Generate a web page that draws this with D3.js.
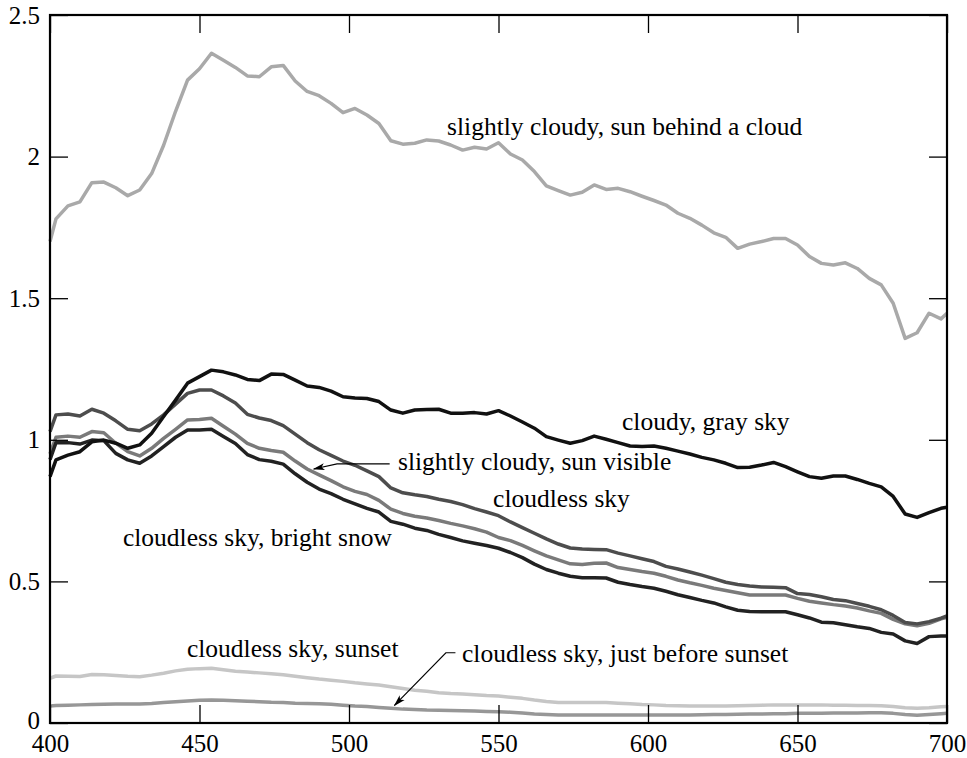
<!DOCTYPE html>
<html>
<head>
<meta charset="utf-8">
<script src="https://cdn.jsdelivr.net/npm/d3@7"></script>
<style>
  body { margin: 0; background: #fff; }
  svg { display: block; font-family: "Liberation Serif", "Times New Roman", serif; }
</style>
</head>
<body>
<div id="chart"></div>
<script>
const width = 967;
const height = 758;

// wavelength grid (nm)
const wavelengths = [400, 402, 406, 410, 414, 418, 422, 426, 430, 434, 438, 442, 446, 450, 454, 458, 462, 466, 470, 474,
  478, 482, 486, 490, 494, 498, 502, 506, 510, 514, 518, 522, 526, 530, 534, 538, 542, 546, 550, 554,
  558, 562, 566, 570, 574, 578, 582, 586, 590, 594, 598, 602, 606, 610, 614, 618, 622, 626, 630, 634,
  638, 642, 646, 650, 654, 658, 662, 666, 670, 674, 678, 682, 686, 690, 694, 698, 700];

const sunBehindCloud = [1.70, 1.78, 1.826, 1.84, 1.908, 1.91, 1.89, 1.862, 1.882, 1.94, 2.04, 2.16, 2.27, 2.31, 2.365, 2.34, 2.315, 2.285, 2.282, 2.317,
  2.322, 2.267, 2.23, 2.215, 2.188, 2.155, 2.17, 2.147, 2.117, 2.056, 2.044, 2.047, 2.059, 2.055, 2.041, 2.023, 2.033, 2.027, 2.049, 2.009,
  1.988, 1.947, 1.897, 1.88, 1.864, 1.874, 1.90, 1.884, 1.888, 1.876, 1.86, 1.845, 1.829, 1.80, 1.782, 1.758, 1.731, 1.715, 1.676, 1.691,
  1.70, 1.711, 1.711, 1.688, 1.647, 1.623, 1.617, 1.625, 1.605, 1.57, 1.547, 1.482, 1.358, 1.378, 1.447, 1.427, 1.447];

const graySky = [0.87, 0.929, 0.946, 0.958, 0.993, 0.999, 0.988, 0.97, 0.982, 1.023, 1.082, 1.14, 1.20, 1.223, 1.246, 1.24, 1.229, 1.213, 1.209, 1.232,
  1.231, 1.211, 1.19, 1.185, 1.172, 1.152, 1.148, 1.146, 1.135, 1.105, 1.094, 1.105, 1.107, 1.108, 1.094, 1.094, 1.096, 1.091, 1.103, 1.084,
  1.063, 1.041, 1.011, 0.999, 0.988, 0.997, 1.013, 1.002, 0.99, 0.978, 0.976, 0.978, 0.97, 0.96, 0.95, 0.938, 0.929, 0.917, 0.902, 0.903,
  0.911, 0.92, 0.905, 0.887, 0.87, 0.864, 0.872, 0.872, 0.86, 0.846, 0.834, 0.80, 0.738, 0.726, 0.743, 0.758, 0.762];

const cloudless = [1.029, 1.088, 1.091, 1.084, 1.108, 1.094, 1.067, 1.037, 1.032, 1.056, 1.088, 1.126, 1.164, 1.176, 1.176, 1.155, 1.13, 1.09, 1.077, 1.068,
  1.05, 1.02, 0.99, 0.965, 0.945, 0.925, 0.91, 0.89, 0.87, 0.83, 0.813, 0.806, 0.80, 0.79, 0.782, 0.771, 0.757, 0.745, 0.732, 0.71,
  0.69, 0.67, 0.65, 0.632, 0.618, 0.614, 0.613, 0.612, 0.60, 0.59, 0.58, 0.57, 0.553, 0.544, 0.533, 0.522, 0.51, 0.497, 0.489, 0.484,
  0.48, 0.479, 0.478, 0.457, 0.454, 0.446, 0.436, 0.432, 0.422, 0.412, 0.40, 0.38, 0.355, 0.35, 0.358, 0.37, 0.378];

const sunVisible = [0.95, 1.009, 1.013, 1.009, 1.029, 1.025, 0.988, 0.958, 0.943, 0.97, 1.005, 1.037, 1.07, 1.072, 1.076, 1.048, 1.02, 0.987, 0.97, 0.962,
  0.956, 0.925, 0.897, 0.876, 0.856, 0.834, 0.818, 0.807, 0.786, 0.755, 0.74, 0.73, 0.724, 0.715, 0.705, 0.696, 0.686, 0.674, 0.655, 0.644,
  0.627, 0.608, 0.59, 0.576, 0.562, 0.56, 0.564, 0.565, 0.549, 0.542, 0.535, 0.529, 0.518, 0.505, 0.495, 0.486, 0.476, 0.468, 0.46, 0.452,
  0.452, 0.452, 0.452, 0.44, 0.43, 0.424, 0.418, 0.413, 0.406, 0.396, 0.387, 0.366, 0.35, 0.343, 0.352, 0.368, 0.373];

const brightSnow = [0.93, 0.99, 0.99, 0.985, 0.999, 0.997, 0.952, 0.929, 0.917, 0.943, 0.976, 1.009, 1.035, 1.035, 1.037, 1.012, 0.987, 0.948, 0.93, 0.924,
  0.914, 0.88, 0.85, 0.826, 0.81, 0.79, 0.774, 0.758, 0.745, 0.712, 0.702, 0.688, 0.68, 0.666, 0.655, 0.643, 0.635, 0.627, 0.617, 0.602,
  0.584, 0.561, 0.542, 0.529, 0.518, 0.513, 0.513, 0.512, 0.497, 0.489, 0.482, 0.476, 0.465, 0.453, 0.443, 0.433, 0.424, 0.41, 0.398, 0.394,
  0.393, 0.393, 0.393, 0.382, 0.371, 0.356, 0.354, 0.347, 0.34, 0.334, 0.32, 0.314, 0.29, 0.281, 0.305, 0.307, 0.307];

const sunset = [0.158, 0.166, 0.165, 0.164, 0.171, 0.17, 0.168, 0.165, 0.163, 0.169, 0.176, 0.184, 0.19, 0.192, 0.193, 0.188, 0.183, 0.18, 0.177, 0.174,
  0.17, 0.165, 0.16, 0.155, 0.151, 0.147, 0.142, 0.138, 0.134, 0.128, 0.122, 0.116, 0.112, 0.107, 0.104, 0.102, 0.10, 0.097, 0.095, 0.091,
  0.087, 0.081, 0.076, 0.072, 0.072, 0.072, 0.072, 0.072, 0.07, 0.068, 0.065, 0.064, 0.062, 0.061, 0.06, 0.06, 0.06, 0.06, 0.061, 0.062,
  0.063, 0.064, 0.064, 0.064, 0.064, 0.064, 0.063, 0.063, 0.062, 0.062, 0.061, 0.058, 0.054, 0.052, 0.054, 0.057, 0.058];

const beforeSunset = [0.06, 0.062, 0.063, 0.064, 0.065, 0.066, 0.067, 0.067, 0.067, 0.069, 0.072, 0.075, 0.078, 0.08, 0.081, 0.08, 0.079, 0.077, 0.075, 0.073,
  0.072, 0.07, 0.069, 0.068, 0.066, 0.063, 0.06, 0.058, 0.055, 0.052, 0.049, 0.048, 0.046, 0.045, 0.044, 0.043, 0.042, 0.041, 0.04, 0.038,
  0.035, 0.032, 0.03, 0.028, 0.028, 0.028, 0.028, 0.028, 0.028, 0.028, 0.028, 0.028, 0.028, 0.028, 0.028, 0.029, 0.03, 0.03, 0.031, 0.032,
  0.032, 0.033, 0.033, 0.034, 0.034, 0.034, 0.035, 0.035, 0.035, 0.036, 0.036, 0.034, 0.03, 0.027, 0.03, 0.033, 0.034];

const seriesNames = ["slightly cloudy, sun behind a cloud", "cloudy, gray sky", "cloudless sky",
  "slightly cloudy, sun visible", "cloudless sky, bright snow", "cloudless sky, sunset", "cloudless sky, just before sunset"];
const seriesValues = [sunBehindCloud, graySky, cloudless, sunVisible, brightSnow, sunset, beforeSunset];

const xTicks = [400, 450, 500, 550, 600, 650, 700];
const yTicks = [0, 0.5, 1, 1.5, 2, 2.5];

// drawing styles, one per series
const colors = ["#a9a9a9", "#111111", "#4d4d4d", "#7a7a7a", "#222222", "#c6c6c6", "#979797"];
// label anchor in data units [nm, value], and arrow paths in data units
const labelPos = [[532.8, 2.076], [591.3, 1.035], [548.2, 0.763], [516.4, 0.893], [424.4, 0.625], [445.8, 0.233], [537.8, 0.215]];
const arrows = [
  [[513.6, 0.915], [496, 0.915], [488.2, 0.897]],
  [[535.6, 0.248], [532.4, 0.248], [515.2, 0.062]]
];

const x = d3.scaleLinear().domain([400, 700]).range([50, 947]);
const y = d3.scaleLinear().domain([0, 2.5]).range([723, 15]);

const svg = d3.select("#chart")
  .append("svg")
  .attr("width", width)
  .attr("height", height);

svg.append("defs").append("marker")
  .attr("id", "arrow")
  .attr("viewBox", "0 0 12 8")
  .attr("refX", 11)
  .attr("refY", 4)
  .attr("markerWidth", 12)
  .attr("markerHeight", 8)
  .attr("markerUnits", "userSpaceOnUse")
  .attr("orient", "auto")
  .append("path")
  .attr("d", "M0,0.5 L12,4 L0,7.5 L3,4 Z")
  .attr("fill", "#000");

// lines
const line = d3.line()
  .x((d, i) => x(wavelengths[i]))
  .y(d => y(d));

// light ones first, dark on top
const order = [5, 6, 0, 3, 2, 4, 1];
order.forEach(k => {
  svg.append("path")
    .datum(seriesValues[k])
    .attr("fill", "none")
    .attr("stroke", colors[k])
    .attr("stroke-width", 3.5)
    .attr("stroke-linejoin", "round")
    .attr("d", line);
});

// axes with inward ticks
const fmt = d => String(d);
const styleAxis = g => {
  g.select(".domain").remove();
  g.selectAll(".tick line").attr("stroke", "#000").attr("stroke-width", 1.3);
  g.selectAll(".tick text")
    .attr("fill", "#000")
    .style("font-family", "'Liberation Serif', serif")
    .style("font-size", "25px");
};

svg.append("g")
  .attr("transform", "translate(0,723)")
  .call(d3.axisBottom(x).tickValues(xTicks).tickFormat(fmt).tickSizeInner(-18).tickSizeOuter(0).tickPadding(11))
  .call(styleAxis);

svg.append("g")
  .attr("transform", "translate(0,15)")
  .call(d3.axisTop(x).tickValues(xTicks).tickFormat("").tickSizeInner(-18).tickSizeOuter(0))
  .call(styleAxis);

svg.append("g")
  .attr("transform", "translate(50,0)")
  .call(d3.axisLeft(y).tickValues(yTicks).tickFormat(fmt).tickSizeInner(-18).tickSizeOuter(0).tickPadding(10))
  .call(styleAxis);

svg.append("g")
  .attr("transform", "translate(947,0)")
  .call(d3.axisRight(y).tickValues(yTicks).tickFormat("").tickSizeInner(-18).tickSizeOuter(0))
  .call(styleAxis);

// nudge the "0" label up a little so it clears "400"
svg.selectAll(".tick text").filter(d => d === 0).attr("dy", "0.2em");

// frame
svg.append("rect")
  .attr("x", x(400))
  .attr("y", y(2.5))
  .attr("width", x(700) - x(400))
  .attr("height", y(0) - y(2.5))
  .attr("fill", "none")
  .attr("stroke", "#000")
  .attr("stroke-width", 2.2);

// series labels
svg.selectAll(".series-label")
  .data(seriesNames)
  .enter()
  .append("text")
  .attr("class", "series-label")
  .attr("x", (d, i) => x(labelPos[i][0]))
  .attr("y", (d, i) => y(labelPos[i][1]))
  .style("font-size", "25.5px")
  .attr("fill", "#000")
  .text(d => d);

// leader arrows
const arrowLine = d3.line()
  .x(d => x(d[0]))
  .y(d => y(d[1]));

arrows.forEach(a => {
  svg.append("path")
    .attr("d", arrowLine(a))
    .attr("fill", "none")
    .attr("stroke", "#000")
    .attr("stroke-width", 1.2)
    .attr("marker-end", "url(#arrow)");
});
</script>
</body>
</html>
